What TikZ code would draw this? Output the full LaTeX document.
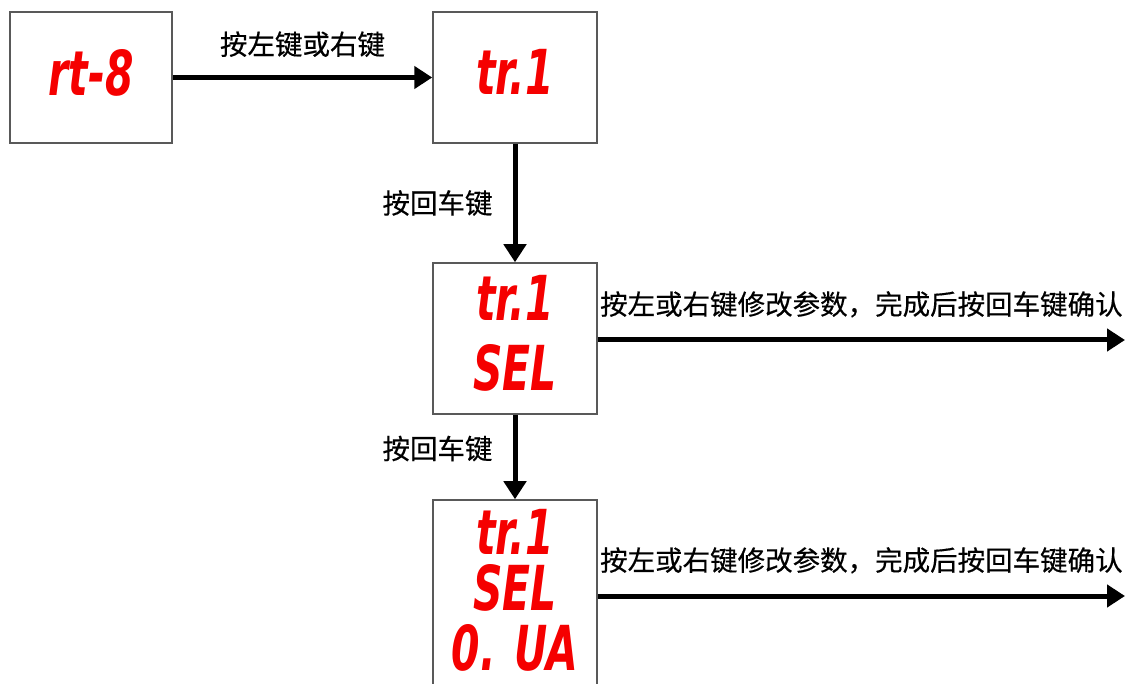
\documentclass[tikz,border=0pt]{standalone}
\usepackage{graphicx}
\usepackage{fontspec}
\setmainfont{Noto Sans CJK SC}[FakeBold=0.4]
\newfontfamily\segfont{DejaVu Sans}
\usetikzlibrary{arrows.meta,positioning}
\definecolor{segred}{RGB}{245,0,0}
\newcommand{\seg}[1]{\scalebox{0.66}[1]{\segfont\bfseries\itshape #1}}

\begin{document}
\begin{tikzpicture}[x=1pt,y=1pt,
  panel/.style={draw=black!65,line width=1.5pt,fill=white,inner sep=0pt,
    text=segred,align=center,minimum width=164pt,text depth=11pt,
    font=\fontsize{62}{70}\selectfont},
  arr/.style={line width=5pt,-{Triangle[length=18pt,width=22pt]}},
  lbl/.style={font=\fontsize{27.5}{30}\selectfont,inner sep=0pt}]
\useasboundingbox (0,0) rectangle (1128,-684);

% Display panels
\node[panel,minimum width=162pt,minimum height=131pt] (rt8) at (91,-77.5) {\seg{rt-8}};
\node[panel,minimum height=131pt] (tr1) at (515,-77.5) {\seg{tr.1}};
\node[panel,minimum height=151pt] (sel) at (515,-338.5) {\seg{tr.1}\\\seg{SEL}};
\node[panel,minimum height=190pt,font=\fontsize{62}{56}\selectfont] (ua) at (515,-595)
  {\seg{tr.1}\\\seg{SEL}\\[4pt]\seg{0. UA}};

% Free ends of the right arrows
\coordinate (selend) at (1125,-340);
\coordinate (uaend) at (1125,-596);

% Connectors
\draw[arr] (rt8) -- (tr1) node[lbl,midway,above=18pt] {按左键或右键};
\draw[arr] (tr1) -- (sel) node[lbl,midway,left=20pt] {按回车键};
\draw[arr] (sel) -- (ua) node[lbl,pos=0.4,left=20pt] {按回车键};
\draw[arr] (sel.east |- selend) -- (selend) node[lbl,midway,above=20pt] {按左或右键修改参数，完成后按回车键确认};
\draw[arr] (ua.east |- uaend) -- (uaend) node[lbl,midway,above=20pt] {按左或右键修改参数，完成后按回车键确认};

\end{tikzpicture}
\end{document}
